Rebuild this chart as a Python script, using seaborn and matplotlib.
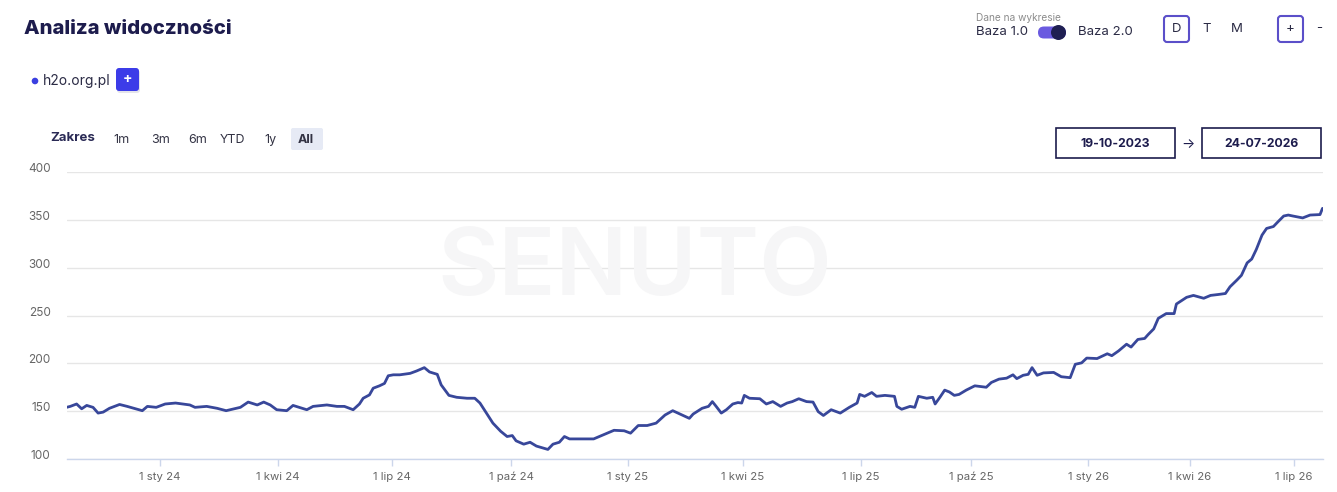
import numpy as np
import pandas as pd
import matplotlib
matplotlib.use("Agg")
import matplotlib.pyplot as plt
import matplotlib.dates as mdates
from matplotlib.patches import FancyBboxPatch, Circle, Rectangle
from matplotlib.transforms import IdentityTransform, ScaledTranslation
import seaborn as sns

# ---------------- data ----------------
dates = [
    "2023-10-19", "2023-10-22", "2023-10-27", "2023-10-31", "2023-11-04", "2023-11-09",
    "2023-11-13", "2023-11-17", "2023-11-22", "2023-11-30", "2023-12-06", "2023-12-18",
    "2023-12-22", "2023-12-29", "2024-01-05", "2024-01-13", "2024-01-24", "2024-01-28",
    "2024-02-06", "2024-02-14", "2024-02-21", "2024-03-03", "2024-03-09", "2024-03-16",
    "2024-03-21", "2024-03-26", "2024-03-31", "2024-04-08", "2024-04-13", "2024-04-24",
    "2024-04-29", "2024-05-10", "2024-05-18", "2024-05-24", "2024-05-31", "2024-06-05",
    "2024-06-08", "2024-06-13", "2024-06-16", "2024-06-21", "2024-06-25", "2024-06-28",
    "2024-07-02", "2024-07-07", "2024-07-15", "2024-07-20", "2024-07-26", "2024-07-30",
    "2024-08-05", "2024-08-08", "2024-08-11", "2024-08-14", "2024-08-20", "2024-08-28",
    "2024-09-03", "2024-09-07", "2024-09-12", "2024-09-17", "2024-09-23", "2024-09-28",
    "2024-10-02", "2024-10-05", "2024-10-11", "2024-10-16", "2024-10-21", "2024-10-26",
    "2024-10-30", "2024-11-03", "2024-11-08", "2024-11-12", "2024-11-16", "2024-11-24",
    "2024-12-05", "2024-12-13", "2024-12-21", "2024-12-29", "2025-01-03", "2025-01-09",
    "2025-01-16", "2025-01-23", "2025-01-30", "2025-02-05", "2025-02-13", "2025-02-18",
    "2025-02-21", "2025-02-28", "2025-03-05", "2025-03-08", "2025-03-11", "2025-03-15",
    "2025-03-19", "2025-03-24", "2025-03-28", "2025-03-31", "2025-04-02", "2025-04-06",
    "2025-04-14", "2025-04-19", "2025-04-24", "2025-04-30", "2025-05-05", "2025-05-09",
    "2025-05-14", "2025-05-20", "2025-05-25", "2025-05-29", "2025-06-02", "2025-06-08",
    "2025-06-15", "2025-06-22", "2025-06-28", "2025-06-30", "2025-07-04", "2025-07-10",
    "2025-07-14", "2025-07-21", "2025-07-29", "2025-07-31", "2025-08-04", "2025-08-11",
    "2025-08-15", "2025-08-18", "2025-08-25", "2025-08-30", "2025-09-01", "2025-09-05",
    "2025-09-09", "2025-09-13", "2025-09-17", "2025-09-21", "2025-09-27", "2025-10-04",
    "2025-10-13", "2025-10-17", "2025-10-23", "2025-10-29", "2025-11-03", "2025-11-06",
    "2025-11-11", "2025-11-15", "2025-11-18", "2025-11-22", "2025-11-27", "2025-12-05",
    "2025-12-11", "2025-12-18", "2025-12-22", "2025-12-27", "2025-12-31", "2026-01-09",
    "2026-01-18", "2026-01-22", "2026-01-28", "2026-02-04", "2026-02-08", "2026-02-14",
    "2026-02-20", "2026-02-23", "2026-02-28", "2026-03-04", "2026-03-11", "2026-03-18",
    "2026-03-20", "2026-03-29", "2026-04-04", "2026-04-13", "2026-04-19", "2026-04-26",
    "2026-05-02", "2026-05-06", "2026-05-12", "2026-05-16", "2026-05-21", "2026-05-25",
    "2026-05-29", "2026-06-03", "2026-06-07", "2026-06-13", "2026-06-17", "2026-06-22",
    "2026-06-26", "2026-06-30", "2026-07-08", "2026-07-14", "2026-07-22", "2026-07-24",
]
visibility = [
    154, 155, 157.5, 152.5, 156, 154,
    148, 149, 153, 157, 155, 150.5,
    155, 154, 157.5, 158.5, 156.5, 154,
    155, 153, 150.5, 154, 159.5, 156.5,
    159.5, 156.5, 151.5, 150.5, 156, 151.5,
    155, 156.5, 155, 155, 151.5, 157.5,
    163.5, 167, 174, 176.5, 179, 187,
    188, 188, 189.5, 192, 195.5, 191,
    188.5, 177.5, 172, 166.5, 164.5, 163.5,
    163.5, 158.5, 148, 137.5, 129, 123.5,
    124.5, 119, 115.5, 117.5, 113.5, 111.5,
    110, 115.5, 117.5, 123.5, 121, 121,
    121, 125.5, 130, 129.5, 127, 135,
    135, 137.5, 146, 150.5, 145.5, 142.5,
    147, 153, 155, 160, 155, 148,
    151.5, 157.5, 159, 158.5, 166.5, 163.5,
    163, 157.5, 160, 155, 158.5, 160,
    163, 160, 159.5, 149.5, 145.5, 151.5,
    148, 154, 158.5, 167.5, 165.5, 169.5,
    165.5, 166.5, 165.5, 155, 152, 155,
    154, 165.5, 163.5, 164.5, 157.5, 164.5,
    172, 170, 166.5, 167.5, 172, 176.5,
    175, 180, 183.5, 184.5, 188, 184,
    187.5, 188.5, 195.5, 187.5, 190, 190.5,
    186, 185, 199, 200.5, 205.5, 205,
    210, 208, 213, 220, 217, 225,
    226, 230, 236, 247, 252, 252,
    262, 269, 271, 268, 271, 272,
    273, 280, 287, 292, 305, 309,
    319, 334, 341, 343, 348, 354,
    355, 354, 352, 355, 355.5, 362,
]
y_ticks = [100, 150, 200, 250, 300, 350, 400]
x_tick_dates = ["2024-01-01", "2024-04-01", "2024-07-01", "2024-10-01",
                "2025-01-01", "2025-04-01", "2025-07-01", "2025-10-01",
                "2026-01-01", "2026-04-01", "2026-07-01"]
x_tick_labels = ["1 sty 24", "1 kwi 24", "1 lip 24", "1 paź 24",
                 "1 sty 25", "1 kwi 25", "1 lip 25", "1 paź 25",
                 "1 sty 26", "1 kwi 26", "1 lip 26"]
range_start, range_end = "2023-10-19", "2026-07-24"
range_buttons = ["1m", "3m", "6m", "YTD", "1y", "All"]
domain = "h2o.org.pl"

# ordinal axis (Highstock style): relative spacing of the axis anchors
axis_anchor_dates = [range_start] + x_tick_dates + [range_end]
axis_anchor_spacing = [0, 93.5, 211.5, 325.5, 444.5, 561.5, 676.5, 794.5,
                       904.5, 1021.5, 1123.5, 1227.5, 1256]

# ---------------- style ----------------
W, H = 1337, 492
sns.set_theme(style="white")
plt.rcParams["font.family"] = ["Inter", "DejaVu Sans"]

LINE = "#38479a"
NAVY = "#1d1c4d"
TXT = "#2b2b45"
GRAY = "#666666"

fig = plt.figure(figsize=(W / 100, H / 100), dpi=100)
fig.patch.set_facecolor("white")

ax_l, ax_r, ax_t, ax_b = 66.5, 1322.5, 172, 459
ax = fig.add_axes([ax_l / W, 1 - ax_b / H, (ax_r - ax_l) / W, (ax_b - ax_t) / H])
ax.patch.set_alpha(0)

df = pd.DataFrame({"date": pd.to_datetime(dates), "value": visibility})
sns.lineplot(data=df, x="date", y="value", ax=ax, color=LINE, linewidth=2.0,
             zorder=5)

an = mdates.date2num(pd.to_datetime(axis_anchor_dates))
ap = np.array(axis_anchor_spacing, float)
s0 = (ap[1] - ap[0]) / (an[1] - an[0])
s1 = (ap[-1] - ap[-2]) / (an[-1] - an[-2])


def fwd(x):
    x = np.asarray(x, float)
    y = np.interp(x, an, ap)
    y = np.where(x < an[0], ap[0] + (x - an[0]) * s0, y)
    y = np.where(x > an[-1], ap[-1] + (x - an[-1]) * s1, y)
    return y


def inv(p):
    p = np.asarray(p, float)
    x = np.interp(p, ap, an)
    x = np.where(p < ap[0], an[0] + (p - ap[0]) / s0, x)
    x = np.where(p > ap[-1], an[-1] + (p - ap[-1]) / s1, x)
    return x


ax.set_xscale("function", functions=(fwd, inv))
ax.set_xlim(an[0], an[-1])
ax.set_ylim(y_ticks[0], y_ticks[-1])
ax.set_xticks(mdates.date2num(pd.to_datetime(x_tick_dates)))
ax.set_xticklabels(x_tick_labels)
ax.set_yticks(y_ticks)
ax.set_yticklabels([str(v) for v in y_ticks])
ax.set_xlabel("")
ax.set_ylabel("")

for s in ["top", "left", "right"]:
    ax.spines[s].set_visible(False)
ax.spines["bottom"].set_color("#ccd6eb")
ax.spines["bottom"].set_linewidth(1)
ax.spines["bottom"].set_zorder(4)
ax.yaxis.grid(True, color="#e6e6e6", linewidth=1)
ax.xaxis.grid(False)
ax.set_axisbelow(True)
ax.tick_params(axis="x", direction="out", length=5, width=1, color="#ccd6eb",
               labelsize=8.2, labelcolor=GRAY, pad=3, bottom=True)
ax.tick_params(axis="y", length=0, labelsize=8.5, labelcolor=GRAY, pad=11.5)
for lab in ax.get_yticklabels():
    lab.set_transform(lab.get_transform() + ScaledTranslation(0, 0.045, fig.dpi_scale_trans))
for lab in ax.get_xticklabels():
    lab.set_verticalalignment("baseline")
    lab.set_transform(lab.get_transform() + ScaledTranslation(0, -0.095, fig.dpi_scale_trans))

ID = IdentityTransform()


def P(x, y):
    return x / W, 1 - y / H


def rbox(x0, y0, x1, y1, r, fc, ec="none", lw=1.0, z=2):
    p = FancyBboxPatch((x0, H - y1), x1 - x0, y1 - y0,
                       boxstyle=f"round,pad=0,rounding_size={r}",
                       fc=fc, ec=ec, lw=lw, transform=ID, zorder=z)
    fig.add_artist(p)


# watermark
fig.text(*P(635, 270), "SENUTO", fontsize=68, color="#f6f6f7", ha="center",
         va="center", fontweight="semibold", zorder=0)

# title
fig.text(*P(24, 29), "Analiza widoczności", fontsize=14.6, fontweight="heavy",
         color=NAVY, va="center", ha="left")

# top-right controls
fig.text(*P(976, 18), "Dane na wykresie", fontsize=7.3, color="#8c8c8c", va="center")
fig.text(*P(976, 32), "Baza 1.0", fontsize=9.5, color=TXT, va="center")
rbox(1038, 26.5, 1066, 38.5, 6, "#6a5ae0")
fig.add_artist(Circle((1058.5, H - 32.5), 7.5, fc="#1f1f52", ec="none",
                      transform=ID, zorder=3))
fig.text(*P(1078, 32), "Baza 2.0", fontsize=9.5, color=TXT, va="center")
rbox(1164, 16, 1189, 42, 3, "white", ec="#5b4fc9", lw=1.5)
fig.text(*P(1176.5, 29.5), "D", fontsize=9.5, color=TXT, ha="center", va="center", zorder=4)
fig.text(*P(1207, 29.5), "T", fontsize=9.5, color=TXT, ha="center", va="center")
fig.text(*P(1237, 29.5), "M", fontsize=9.5, color=TXT, ha="center", va="center")
rbox(1278, 16, 1303, 42, 3, "white", ec="#5b4fc9", lw=1.5)
fig.text(*P(1290.5, 29), "+", fontsize=9.5, color=TXT, ha="center", va="center", zorder=4)
fig.text(*P(1319, 28), "-", fontsize=9.5, color=TXT, ha="center", va="center")

# legend
fig.add_artist(Circle((35, H - 81), 3.3, fc="#3a3fe0", ec="none", transform=ID, zorder=3))
fig.text(*P(43, 81), domain, fontsize=10, color=TXT, va="center")
rbox(117, 70, 140, 93, 3, "#e4e4ea", z=1)
rbox(116, 68, 139, 91, 3, "#3c3ce8", z=2)
fig.text(*P(127.5, 79.5), "+", fontsize=10, fontweight="bold", color="white",
         ha="center", va="center", zorder=4)

# range selector
fig.text(*P(50, 138), "Zakres", fontsize=9.5, fontweight="bold", color="#2a2a55", va="center")
btn_x = [122, 161, 198, 232, 270, 306]
rbox(291, 128, 323, 150, 2, "#e6eaf5")
for bx, lab in zip(btn_x, range_buttons):
    fig.text(*P(bx, 140), lab, fontsize=9, color="#333344", ha="center", va="center",
             fontweight="bold" if lab == "All" else "normal", zorder=4)

# date range boxes
for (x0, x1), lab in zip([(1056, 1175), (1202, 1321)], [range_start, range_end]):
    fig.add_artist(Rectangle((x0, H - 158), x1 - x0, 30, fc="white", ec=NAVY,
                             lw=1.2, transform=ID, zorder=2))
    txt = pd.to_datetime(lab).strftime("%d-%m-%Y")
    fig.text(*P((x0 + x1) / 2, 143.5), txt, fontsize=8.8, fontweight="bold",
             color=NAVY, ha="center", va="center", zorder=4)
fig.text(*P(1188, 144), "→", fontsize=10, color=NAVY, ha="center", va="center")

fig.savefig("out.png", dpi=100)
